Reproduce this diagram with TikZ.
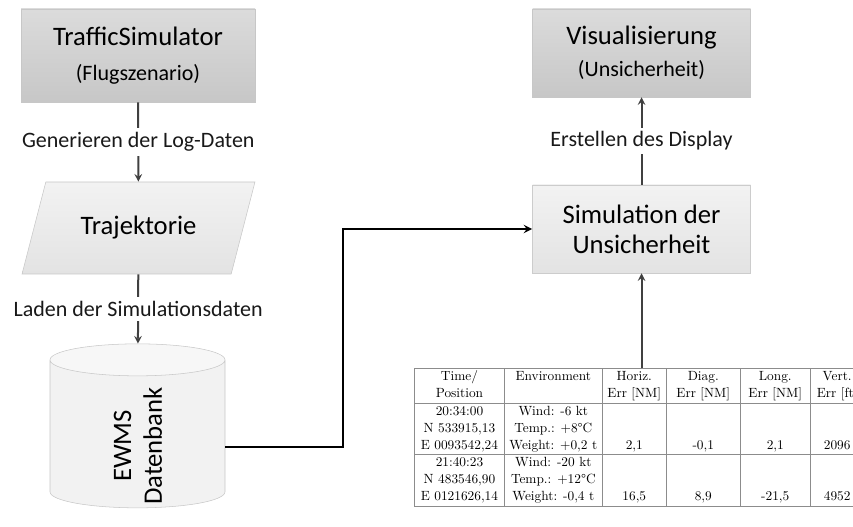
\documentclass[tikz,border=0pt]{standalone}
\usepackage{fontspec}
\usepackage{array}
\usepackage{colortbl}
\usetikzlibrary{shapes.geometric, arrows}
\newfontfamily\boxfont{Carlito}
\newcolumntype{C}[1]{>{\centering\arraybackslash}p{#1}}
\setlength{\tabcolsep}{0pt}
\renewcommand{\arraystretch}{1.06}
\tikzstyle{darkbox} = [rectangle, minimum width=163.5pt, minimum height=66pt, align=center, draw=black!22, top color=black!14, bottom color=black!22, font=\boxfont\fontsize{20}{24}\selectfont]
\tikzstyle{lightbox} = [rectangle, minimum width=163.5pt, minimum height=66pt, align=center, draw=black!20, top color=black!5, bottom color=black!11, font=\boxfont\fontsize{20}{22.5}\selectfont]
\tikzstyle{datashape} = [trapezium, trapezium left angle=63.4, trapezium right angle=116.6, trapezium stretches=true, minimum width=174.75pt, minimum height=69pt, draw=black!22, top color=black!5, bottom color=black!11, font=\boxfont\fontsize{20}{24}\selectfont]
\tikzstyle{dbshape} = [cylinder, shape border rotate=90, aspect=3.6, minimum width=131.25pt, minimum height=123pt, draw=black!22, cylinder uses custom fill, cylinder body fill=black!5, cylinder end fill=black!3]
\tikzstyle{steplabel} = [fill=white, text=black!90, inner sep=3pt, font=\boxfont\fontsize{16.5}{20}\selectfont]
\tikzstyle{arrow} = [line width=1.5pt, ->, >=stealth, black!75]
\tikzstyle{link} = [line width=1.8pt, ->, >=stealth, black]

\begin{document}
\begin{tikzpicture}[x=0.75pt, y=-0.75pt]
	\clip (0,0) rectangle (853,527);
	\node (traffic) [darkbox, minimum width=175.5pt, minimum height=69.75pt] at (138,55.5) {TrafficSimulator\\[2pt]{\fontsize{16.5}{20}\selectfont (Flugszenario)}};
	\node (traj) [datashape] at (138.5,228) {Trajektorie};
	\node (db) [dbshape] at (137.5,436.5) {};
	\node (dbtext) [rotate=90, align=center, font=\boxfont\fontsize{20}{23}\selectfont] at (138,446) {EWMS\\Datenbank};
	\node (sim) [lightbox] at (641.5,229) {Simulation der\\Unsicherheit};
	\node (vis) [darkbox] at (641.5,53) {Visualisierung\\{\fontsize{16.5}{20}\selectfont (Unsicherheit)}};
	\node (errtable) [anchor=north west, inner sep=0pt] at (414,368) {\arrayrulecolor{black!45}%
		\begin{tabular}{|C{67pt}|C{73pt}|C{47.6pt}|C{55.1pt}|C{52.1pt}|C{40pt}|}
			\hline
			Time/ & Environment & Horiz. & Diag. & Long. & Vert. \\
			Position & & Err [NM] & Err [NM] & Err [NM] & Err [ft] \\ \hline
			20:34:00 & Wind: -6 kt & & & & \\
			N 533915,13 & Temp.: +8°C & & & & \\
			E 0093542,24 & Weight: +0,2 t & 2,1 & -0,1 & 2,1 & 2096 \\ \hline
			21:40:23 & Wind: -20 kt & & & & \\
			N 483546,90 & Temp.: +12°C & & & & \\
			E 0121626,14 & Weight: -0,4 t & 16,5 & 8,9 & -21,5 & 4952 \\ \hline
		\end{tabular}};
	\coordinate (bend) at (343,447);
	
	\draw [arrow] (traffic) -- node [steplabel] {Generieren der Log-Daten} (traj);
	\draw [arrow] (traj) -- node [steplabel] {Laden der Simulationsdaten} (db);
	\draw [arrow] (sim) -- node [steplabel] {Erstellen des Display} (vis);
	\draw [arrow] (errtable.north -| sim) -- (sim);
	\draw [link] (db.east |- bend) -- (bend) |- (sim);
\end{tikzpicture}
\end{document}
